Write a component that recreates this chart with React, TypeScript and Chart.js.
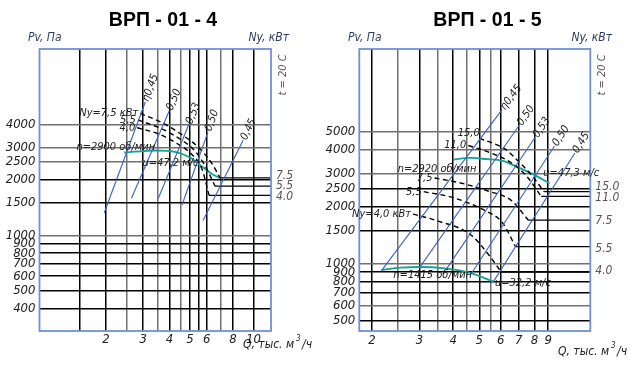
import React, { useEffect, useRef } from 'react';
import { Chart, registerables } from 'chart.js';

Chart.register(...registerables);

// ================= DATA : ВРП - 01 - 4 =================
const title4 = 'ВРП - 01 - 4';
const qTicks4 = [1.5, 2, 2.5, 3, 3.5, 4, 4.5, 5, 5.5, 6, 7, 8, 10];
const qLabels4 = [2, 3, 4, 5, 6, 8, 10];
const qGray4 = [2.5, 3.5, 4.5, 7];
const pTicks4 = [400, 500, 600, 700, 800, 900, 1000, 1500, 2000, 2500, 3000, 4000];
const pGray4 = [4000, 3000, 2500, 1000];
const qRange4 = [0.967, 12.12];
const pRange4 = [302, 10300];

// pressure curve n = 2900 rpm
const fanQ4 = [2.44, 3.47, 4.25, 5.03, 5.68, 6.42, 6.94];
const fanP4 = [2820, 2893, 2840, 2641, 2374, 2141, 2055];

// power curves Ny (kW)
const pow75Q4 = [2.905, 3.72, 4.55, 5.5, 6.42, 6.94];
const pow75P4 = [4603, 4074, 3540, 3000, 2415, 2055];
const pow55Q4 = [2.83, 3.6, 4.4, 5.24, 5.87, 6.58];
const pow55P4 = [4238, 3833, 3385, 2903, 2415, 1850];
const pow40Q4 = [2.81, 3.53, 4.26, 5.11, 5.7, 6.16];
const pow40P4 = [3842, 3565, 3196, 2749, 2294, 1650];
const powNames4 = ['Ny=7,5 кВт', '5,5', '4,0'];
const powTickLabels4 = ['7.5', '5.5', '4.0'];
const powTickP4 = [2092, 1861, 1612];

// efficiency lines (start Q,P -> end Q,P)
const etaQ4 = [[1.96, 3.07], [2.64, 3.99], [3.54, 4.94], [4.59, 6.09], [5.77, 8.94]];
const etaP4 = [[1322, 5304], [1589, 4757], [1589, 4000], [1467, 3652], [1203, 3284]];
const etaNames4 = ['η0,45', '0,50', '0,53', '0,50', '0,45'];

const noteText4 = ['n=2900 об/мин', 'u=47,2 м/с'];
const noteQ4 = [1.447, 2.98];
const noteP4 = [3014, 2480];

// ================= DATA : ВРП - 01 - 5 =================
const title5 = 'ВРП - 01 - 5';
const qTicks5 = [2, 2.5, 3, 3.5, 4, 4.5, 5, 5.5, 6, 7, 8, 9];
const qLabels5 = [2, 3, 4, 5, 6, 7, 8, 9];
const qGray5 = [2.5, 3.5, 4.5, 5.5];
const pTicks5 = [500, 600, 700, 800, 900, 1000, 1500, 2000, 2500, 3000, 4000, 5000];
const pGray5 = [5000, 4000, 3000, 1000, 600];
const qRange5 = [1.795, 12.89];
const pRange5 = [439, 13714];

// pressure curves n = 2920 and n = 1415 rpm
const fanHiQ5 = [4.0, 4.63, 5.3, 6.1, 6.9, 7.93, 9.1];
const fanHiP5 = [3561, 3631, 3579, 3501, 3256, 2971, 2664];
const fanLoQ5 = [2.17, 2.55, 2.99, 3.73, 4.63, 5.64];
const fanLoP5 = [924, 951, 959, 943, 893, 802];

// power curves Ny (kW)
const pow150Q5 = [5.0, 6.25, 6.9, 7.71, 8.7];
const pow150P5 = [4619, 4029, 3536, 3000, 2404];
const pow110Q5 = [4.55, 5.54, 6.56, 7.49, 8.48];
const pow110P5 = [4225, 3845, 3422, 2904, 2270];
const pow75Q5 = [3.41, 4.22, 5.38, 6.56, 7.6];
const pow75P5 = [2840, 2682, 2424, 2161, 1697];
const pow55Q5 = [3.11, 3.96, 5.08, 6.1, 6.81];
const pow55P5 = [2404, 2244, 1952, 1641, 1229];
const pow40Q5 = [2.84, 3.5, 4.63, 5.45, 6.03];
const pow40P5 = [1829, 1682, 1425, 1100, 900];
const powNames5 = ['15,0', '11,0', '7,5', '5,5', 'Ny=4,0 кВт'];
const powTickLabels5 = ['15.0', '11.0', '7.5', '5.5', '4.0'];
const powTickP5 = [2539, 2228, 1682, 1202, 910];

const etaQ5 = [[2.17, 6.07], [3.02, 7.02], [3.78, 8.04], [4.7, 9.5], [5.64, 11.3]];
const etaP5 = [[917, 6539], [963, 5395], [937, 4653], [896, 4195], [802, 3855]];
const etaNames5 = ['η0,45', '0,50', '0,53', '0,50', '0,45'];

const noteText5 = ['15,0', 'n=2920 об/мин', 'u=47,3 м/с', 'n=1415 об/мин', 'u=32,2 м/с'];
const noteQ5 = [5.02, 2.49, 8.63, 2.4, 5.71];
const noteP5 = [4939, 3177, 3005, 863, 785];
const noteAlign5 = ['right', 'left', 'left', 'left', 'left'];

// ================= STYLE =================
const NARROW = "'Liberation Sans Narrow', 'DejaVu Sans Condensed', 'Liberation Sans', sans-serif";
const SANS = "'Liberation Sans', Arial, sans-serif";
const BLUE = '#3d62c4';
const TEAL = '#17a293';
const FRAME = '#6f8fd8';
const TEXT = '#222';

type Pt = { x: number; y: number };
const zip = (q: number[], p: number[]): Pt[] => q.map((x, i) => ({ x, y: p[i] }));

interface Spec {
  title: string;
  qTicks: number[];
  qLabels: number[];
  qGray: number[];
  pTicks: number[];
  pGray: number[];
  qRange: number[];
  pRange: number[];
  fans: Pt[][];
  powers: Pt[][];
  powNames: string[];
  powTickLabels: string[];
  powTickP: number[];
  etaQ: number[][];
  etaP: number[][];
  etaNames: string[];
  notes: { text: string; q: number; p: number; align: string }[];
  skipPowName?: number;
  lay: {
    leftW: number;
    rightW: number;
    titleX: number;
    pvX: number;
    nyX: number;
    tX: number;
    qTitleY: number;
    xLabelPad: number;
  };
}

const spec4: Spec = {
  title: title4,
  qTicks: qTicks4,
  qLabels: qLabels4,
  qGray: qGray4,
  pTicks: pTicks4,
  pGray: pGray4,
  qRange: qRange4,
  pRange: pRange4,
  fans: [zip(fanQ4, fanP4)],
  powers: [zip(pow75Q4, pow75P4), zip(pow55Q4, pow55P4), zip(pow40Q4, pow40P4)],
  powNames: powNames4,
  powTickLabels: powTickLabels4,
  powTickP: powTickP4,
  etaQ: etaQ4,
  etaP: etaP4,
  etaNames: etaNames4,
  notes: noteText4.map((t, i) => ({ text: t, q: noteQ4[i], p: noteP4[i], align: 'left' })),
  lay: { leftW: 39.5, rightW: 44, titleX: 163, pvX: 28, nyX: 289, tX: 283, qTitleY: 345, xLabelPad: 1 },
};

const spec5: Spec = {
  title: title5,
  qTicks: qTicks5,
  qLabels: qLabels5,
  qGray: qGray5,
  pTicks: pTicks5,
  pGray: pGray5,
  qRange: qRange5,
  pRange: pRange5,
  fans: [zip(fanHiQ5, fanHiP5), zip(fanLoQ5, fanLoP5)],
  powers: [
    zip(pow150Q5, pow150P5),
    zip(pow110Q5, pow110P5),
    zip(pow75Q5, pow75P5),
    zip(pow55Q5, pow55P5),
    zip(pow40Q5, pow40P5),
  ],
  powNames: powNames5,
  powTickLabels: powTickLabels5,
  powTickP: powTickP5,
  etaQ: etaQ5,
  etaP: etaP5,
  etaNames: etaNames5,
  notes: noteText5.map((t, i) => ({ text: t, q: noteQ5[i], p: noteP5[i], align: noteAlign5[i] })),
  skipPowName: 0,
  lay: { leftW: 44.3, rightW: 39.7, titleX: 172.5, pvX: 33, nyX: 297, tX: 287, qTitleY: 352, xLabelPad: 2 },
};

function drawText(
  ctx: CanvasRenderingContext2D,
  s: string,
  x: number,
  y: number,
  font: string,
  color: string,
  align: CanvasTextAlign = 'left',
  baseline: CanvasTextBaseline = 'middle'
) {
  ctx.font = font;
  ctx.fillStyle = color;
  ctx.textAlign = align;
  ctx.textBaseline = baseline;
  ctx.fillText(s, x, y);
}

function buildConfig(spec: Spec): any {
  const datasets: any[] = [];
  spec.etaQ.forEach((q, i) => {
    datasets.push({
      data: zip(q, spec.etaP[i]),
      borderColor: BLUE,
      borderWidth: 1.1,
      pointRadius: 0,
      tension: 0,
    });
  });
  spec.powers.forEach((pts) => {
    datasets.push({
      data: pts,
      borderColor: '#000',
      borderWidth: 1.4,
      borderDash: [5, 3.5],
      pointRadius: 0,
      cubicInterpolationMode: 'monotone',
    });
    const last = pts[pts.length - 1];
    datasets.push({
      data: [last, { x: spec.qRange[1], y: last.y }],
      borderColor: '#000',
      borderWidth: 1.3,
      pointRadius: 0,
      tension: 0,
    });
  });
  spec.fans.forEach((pts) => {
    datasets.push({
      data: pts,
      borderColor: TEAL,
      borderWidth: 1.9,
      pointRadius: 0,
      cubicInterpolationMode: 'monotone',
    });
  });

  const tickFont = { family: NARROW, size: 13, style: 'italic' as const };

  const deco = {
    id: 'deco',
    afterDraw(chart: any) {
      const ctx: CanvasRenderingContext2D = chart.ctx;
      const a = chart.chartArea;
      const xs = chart.scales.x;
      const ys = chart.scales.y;
      const L = spec.lay;
      ctx.save();
      // frame
      ctx.strokeStyle = FRAME;
      ctx.lineWidth = 1.8;
      ctx.strokeRect(a.left, a.top, a.right - a.left, a.bottom - a.top);

      // title
      drawText(ctx, spec.title, L.titleX, 21, `bold 19.5px ${SANS}`, '#000', 'center');
      // axis titles
      drawText(ctx, 'Pv, Па', L.pvX, 38, `italic 12px ${NARROW}`, '#2e3b66', 'left');
      drawText(ctx, 'Ny, кВт', L.nyX, 38, `italic 12px ${NARROW}`, '#2e3b66', 'right');
      ctx.save();
      ctx.translate(L.tX, 75);
      ctx.rotate(-Math.PI / 2);
      drawText(ctx, 't = 20 C', 0, 0, `italic 11px ${NARROW}`, '#555', 'center');
      ctx.restore();
      // Q title
      const qf = `italic 12px ${NARROW}`;
      let qx = 243;
      ctx.font = qf;
      const part1 = 'Q, тыс. м';
      drawText(ctx, part1, qx, L.qTitleY, qf, TEXT, 'left');
      qx += ctx.measureText(part1).width + 2;
      drawText(ctx, '3', qx, L.qTitleY - 6, `italic 8px ${NARROW}`, TEXT, 'left');
      qx += 6;
      drawText(ctx, '/ч', qx, L.qTitleY, qf, TEXT, 'left');

      // efficiency labels along the lines
      spec.etaQ.forEach((q, i) => {
        const x1 = xs.getPixelForValue(q[0]);
        const y1 = ys.getPixelForValue(spec.etaP[i][0]);
        const x2 = xs.getPixelForValue(q[1]);
        const y2 = ys.getPixelForValue(spec.etaP[i][1]);
        const ang = Math.atan2(y2 - y1, x2 - x1);
        ctx.save();
        ctx.translate(x2, y2);
        ctx.rotate(ang);
        drawText(ctx, spec.etaNames[i], 1, 0, `italic 11px ${NARROW}`, TEXT, 'left');
        ctx.restore();
      });

      // power curve names at curve starts
      spec.powers.forEach((pts, i) => {
        if (spec.skipPowName === i) return;
        const x = xs.getPixelForValue(pts[0].x);
        const y = ys.getPixelForValue(pts[0].y);
        drawText(ctx, spec.powNames[i], x - 2, y, `italic 11px ${NARROW}`, TEXT, 'right');
      });

      // other notes
      spec.notes.forEach((n) => {
        const x = xs.getPixelForValue(n.q);
        const y = ys.getPixelForValue(n.p);
        drawText(ctx, n.text, x, y, `italic 11px ${NARROW}`, TEXT, n.align as CanvasTextAlign);
      });
      ctx.restore();
    },
  };

  return {
    type: 'line',
    data: { datasets },
    options: {
      responsive: false,
      animation: false,
      devicePixelRatio: 1,
      layout: { padding: { top: 49, left: 0, right: 0, bottom: 0 } },
      plugins: { legend: { display: false }, tooltip: { enabled: false }, title: { display: false } },
      elements: { line: { fill: false } },
      scales: {
        x: {
          type: 'logarithmic',
          min: spec.qRange[0],
          max: spec.qRange[1],
          afterBuildTicks: (s: any) => {
            s.ticks = spec.qTicks.map((v) => ({ value: v }));
          },
          afterFit: (s: any) => {
            s.height = 40;
          },
          ticks: {
            autoSkip: false,
            maxRotation: 0,
            padding: spec.lay.xLabelPad,
            font: tickFont,
            color: TEXT,
            callback: (v: any) => (spec.qLabels.includes(Number(v)) ? String(v) : ''),
          },
          grid: {
            drawTicks: false,
            lineWidth: 1.5,
            color: (c: any) => (c.tick && spec.qGray.includes(c.tick.value) ? '#707070' : '#000'),
          },
          border: { display: false },
        },
        y: {
          type: 'logarithmic',
          position: 'left',
          min: spec.pRange[0],
          max: spec.pRange[1],
          afterBuildTicks: (s: any) => {
            s.ticks = spec.pTicks.map((v) => ({ value: v }));
          },
          afterFit: (s: any) => {
            s.width = spec.lay.leftW;
          },
          ticks: {
            autoSkip: false,
            padding: 4,
            font: tickFont,
            color: TEXT,
            callback: (v: any) => String(v),
          },
          grid: {
            drawTicks: false,
            lineWidth: 1.5,
            color: (c: any) => (c.tick && spec.pGray.includes(c.tick.value) ? '#707070' : '#000'),
          },
          border: { display: false },
        },
        y2: {
          type: 'logarithmic',
          position: 'right',
          min: spec.pRange[0],
          max: spec.pRange[1],
          afterBuildTicks: (s: any) => {
            s.ticks = spec.powTickP.map((v) => ({ value: v }));
          },
          afterFit: (s: any) => {
            s.width = spec.lay.rightW;
          },
          ticks: {
            autoSkip: false,
            padding: 5,
            font: { family: NARROW, size: 12, style: 'italic' },
            color: '#555',
            callback: (_v: any, i: number) => spec.powTickLabels[i],
          },
          grid: { display: false, drawTicks: false },
          border: { display: false },
        },
      },
    },
    plugins: [deco],
  };
}

function NomoChart({ spec, left }: { spec: Spec; left: number }) {
  const ref = useRef<HTMLCanvasElement>(null);
  useEffect(() => {
    if (!ref.current) return;
    const chart = new Chart(ref.current, buildConfig(spec));
    return () => chart.destroy();
  }, [spec]);
  return (
    <canvas
      ref={ref}
      width={315}
      height={371}
      style={{ position: 'absolute', left, top: 0, width: 315, height: 371 }}
    />
  );
}

export default function App() {
  return (
    <div style={{ position: 'fixed', left: 0, top: 0, width: 630, height: 371, background: '#fff' }}>
      <NomoChart spec={spec4} left={0} />
      <NomoChart spec={spec5} left={315} />
    </div>
  );
}
